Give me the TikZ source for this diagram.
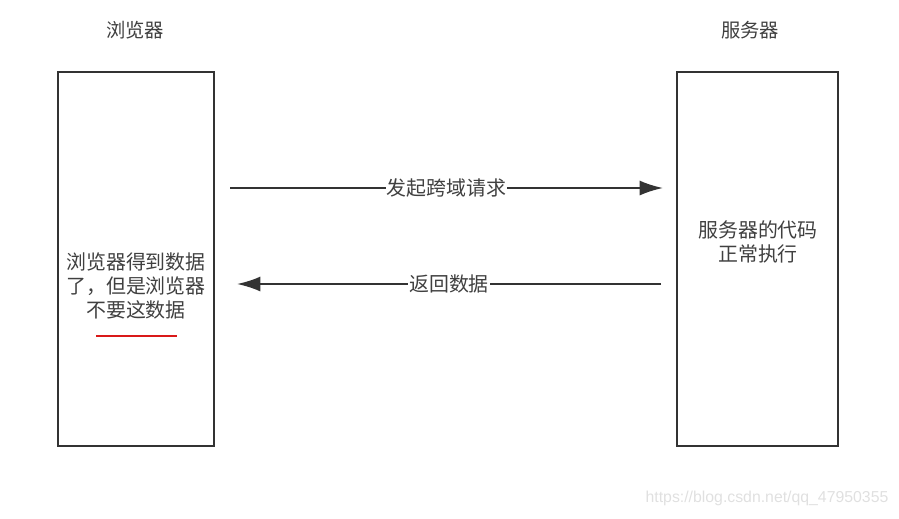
\documentclass[tikz,border=0pt]{standalone}
\usepackage{fontspec}
\setmainfont{Noto Sans CJK SC}
\newfontfamily\urlfont{Liberation Sans}
\usetikzlibrary{arrows.meta}
\begin{document}
\begin{tikzpicture}[x=0.03cm,y=-0.03cm]
\definecolor{boxgray}{rgb}{0.2,0.2,0.2}
\definecolor{txtgray}{rgb}{0.25,0.25,0.25}
\definecolor{markred}{rgb}{0.85,0.1,0.1}
\tikzset{
  sidebox/.style={draw=boxgray, line width=1.6pt, minimum height=374*0.03cm, inner sep=0pt},
  msgarrow/.style={draw=boxgray, line width=1.6pt, -{Latex[length=0.7cm,width=0.45cm]}},
  msglabel/.style={fill=white, inner sep=1pt, text=txtgray, font=\fontsize{17}{19}\selectfont},
  boxtext/.style={align=center, text=txtgray, font=\fontsize{17}{20.5}\selectfont},
  titletext/.style={text=txtgray, font=\fontsize{16.5}{19}\selectfont}
}
\useasboundingbox (0,0) rectangle (899,518);

\node [sidebox, minimum width=156*0.03cm] (browser) at (136,259) {};
\node [sidebox, minimum width=161*0.03cm] (server) at (757.5,259) {};
\node [titletext] (browsertitle) at (135,30) {浏览器};
\node [titletext] (servertitle) at (750,30) {服务器};

\node [boxtext] (browsertext) at (136,286) {浏览器得到数据\\了，但是浏览器\\不要这数据};
\node [boxtext] (servertext) at (758,242) {服务器的代码\\正常执行};

\coordinate (reqstart) at (230,188);
\coordinate (reqend) at (663,188);
\coordinate (respstart) at (661,284);
\coordinate (respend) at (237,284);
\draw [msgarrow] (reqstart) -- (reqend) node [msglabel, midway] (reqlabel) {发起跨域请求};
\draw [msgarrow] (respstart) -- (respend) node [msglabel, midway] (resplabel) {返回数据};

\coordinate (markleft) at (96,336);
\coordinate (markright) at (177,336);
\draw [markred, line width=1.6pt] (markleft) -- (markright);

\node [text=black!12, font=\urlfont\fontsize{13.5}{16}\selectfont] (watermark) at (767,498) {https://blog.csdn.net/qq\_47950355};
\end{tikzpicture}
\end{document}
